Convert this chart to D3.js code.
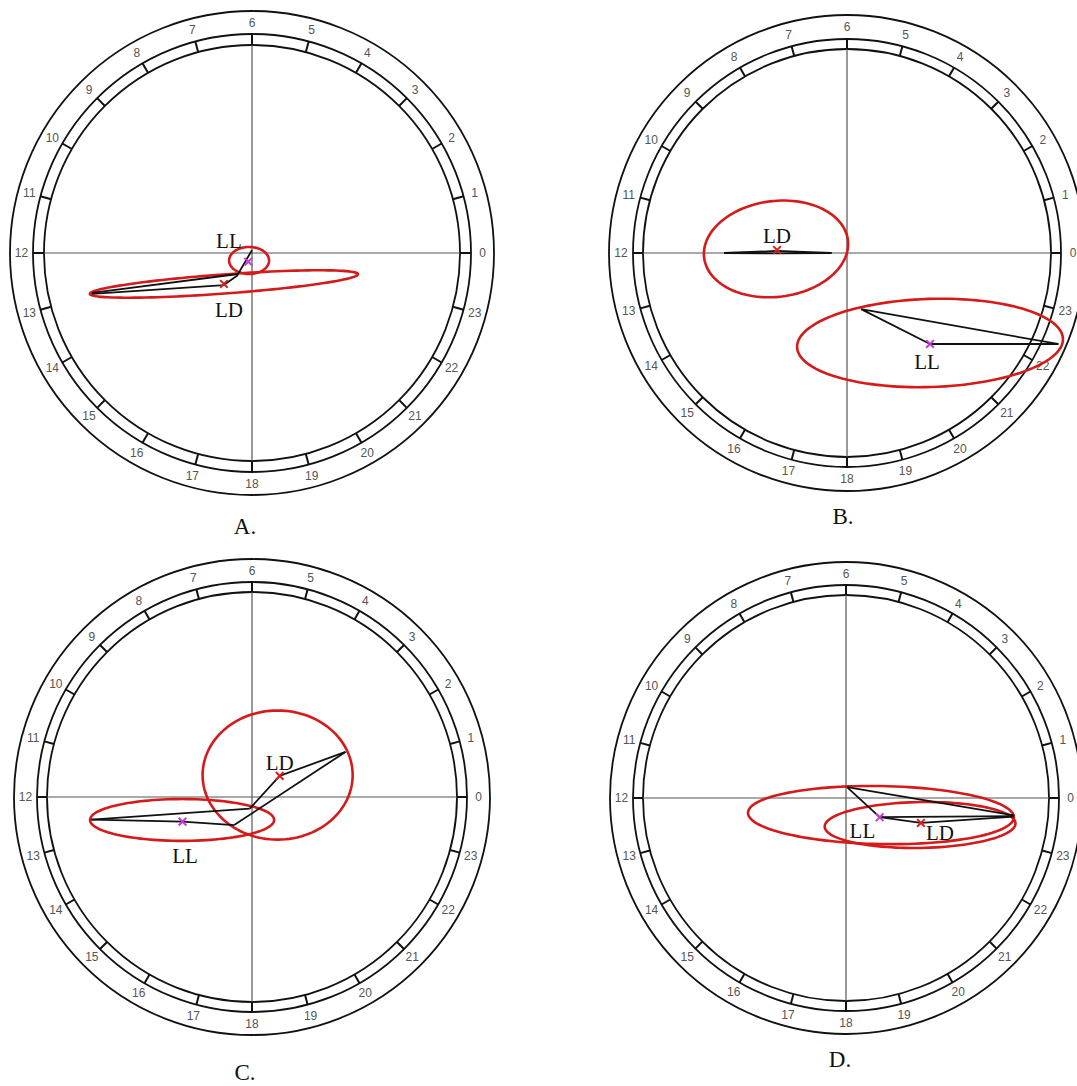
<!DOCTYPE html>
<html>
<head>
<meta charset="utf-8">
<script src="https://cdn.jsdelivr.net/npm/d3@7"></script>
<style>
  html, body { margin: 0; padding: 0; background: #fff; }
  svg { display: block; }
</style>
</head>
<body>
<svg id="chart" width="1077" height="1086"></svg>
<script>
// Hours of the clock dial (0 at 3 o'clock, counter-clockwise)
const hours = d3.range(24);
const panelTitles = ["A.", "B.", "C.", "D."];
const groups = ["LL", "LD"];

// Cosinor estimates, in % of the dial scale: x = A·cos(φ), y = A·sin(φ)
const markersA = [{ g: "LL", x: -1.8, y: -4.2 }, { g: "LD", x: -13.5, y: -14.9 }];
const markersB = [{ g: "LL", x: 40.7, y: -44.6 }, { g: "LD", x: -34.3, y: 1.5 }];
const markersC = [{ g: "LL", x: -33.9, y: -12.0 }, { g: "LD", x: 13.5, y: 10.3 }];
const markersD = [{ g: "LL", x: 16.6, y: -9.5 }, { g: "LD", x: 36.9, y: -12.3 }];

// Confidence ellipses: centre, semi-axes, tilt (degrees)
const ellipsesA = [
  { g: "LL", x: -1.4, y: -3.6, a: 9.6, b: 6.5, tilt: 0 },
  { g: "LD", x: -13.5, y: -14.9, a: 64.6, b: 4.6, tilt: 4.2 }
];
const ellipsesB = [
  { g: "LD", x: -34.8, y: 2.0, a: 35.5, b: 23.5, tilt: 7 },
  { g: "LL", x: 40.7, y: -44.1, a: 65.2, b: 21.6, tilt: 1.8 }
];
const ellipsesC = [
  { g: "LD", x: 12.5, y: 10.7, a: 36.6, b: 31.5, tilt: 0 },
  { g: "LL", x: -34.1, y: -11.2, a: 44.9, b: 10.2, tilt: 0 }
];
const ellipsesD = [
  { g: "LL", x: 17.2, y: -8.4, a: 65.5, b: 14.3, tilt: -1 },
  { g: "LD", x: 36.5, y: -13.3, a: 47.0, b: 11.3, tilt: 1 }
];

// Vector / tangent segments
const segmentsA = [
  [[0, 1.4], [-6.7, -10.1], [-76.9, -19.2]],
  [[-76.9, -19.7], [-13.5, -15.4], [-6.7, -10.6]]
];
const segmentsB = [
  [[-60.3, 0], [-34.3, 1.0], [-7.8, 0], [-34.3, -0.2], [-60.3, 0]],
  [[6.9, -27.5], [103.4, -44.6], [40.7, -44.6], [6.9, -27.5]]
];
const segmentsC = [
  [[45.6, 22.0], [13.5, 10.3], [-1.1, -5.7]],
  [[45.6, 22.0], [-8.7, -13.7]],
  [[-78.4, -11.0], [-33.9, -12.0], [-8.7, -13.7]],
  [[-78.4, -11.0], [-1.1, -5.7]]
];
const segmentsD = [
  [[0.5, 5.4], [82.8, -8.6]],
  [[0.5, 5.4], [16.6, -9.4], [82.8, -8.9]],
  [[16.6, -9.4], [36.9, -12.3], [82.8, -9.2]]
];

// Group annotations
const notesA = [{ g: "LL", x: -11.1, y: 5.8 }, { g: "LD", x: -11.1, y: -27.4 }];
const notesB = [{ g: "LD", x: -34.3, y: 8.3 }, { g: "LL", x: 39.2, y: -53.2 }];
const notesC = [{ g: "LD", x: 13.5, y: 16.6 }, { g: "LL", x: -32.7, y: -28.7 }];
const notesD = [{ g: "LL", x: 8.1, y: -16.3 }, { g: "LD", x: 46.3, y: -17.4 }];

const panelData = [
  { markers: markersA, ellipses: ellipsesA, segments: segmentsA, notes: notesA },
  { markers: markersB, ellipses: ellipsesB, segments: segmentsB, notes: notesB },
  { markers: markersC, ellipses: ellipsesC, segments: segmentsC, notes: notesC },
  { markers: markersD, ellipses: ellipsesD, segments: segmentsD, notes: notesD }
];

// Dial geometry for each panel (pixels)
const dials = [
  { cx: 252, cy: 253, rIn: 208, rMid: 219, rOut: 242, tx: 245, ty: 534 },
  { cx: 847, cy: 253, rIn: 204, rMid: 214, rOut: 238, tx: 843, ty: 524 },
  { cx: 252, cy: 797, rIn: 205, rMid: 215, rOut: 238, tx: 245, ty: 1080 },
  { cx: 846, cy: 798, rIn: 203, rMid: 213, rOut: 236, tx: 840, ty: 1067 }
];

const markerColor = { LL: "#c43ccf", LD: "#d42020" };
const svg = d3.select("#chart");

dials.forEach((dial, i) => {
  const d = panelData[i];
  const x = d3.scaleLinear().domain([-100, 100]).range([dial.cx - dial.rIn, dial.cx + dial.rIn]);
  const y = d3.scaleLinear().domain([-100, 100]).range([dial.cy + dial.rIn, dial.cy - dial.rIn]);
  const angle = d3.scaleLinear().domain([0, 24]).range([0, 2 * Math.PI]);
  const g = svg.append("g");

  // rings
  g.selectAll(".ring").data([dial.rIn, dial.rMid, dial.rOut]).join("circle")
    .attr("cx", dial.cx).attr("cy", dial.cy).attr("r", r => r)
    .attr("fill", "none").attr("stroke", "#111").attr("stroke-width", 1.8);

  // crosshair
  g.append("line").attr("x1", x(-100)).attr("x2", x(100)).attr("y1", y(0)).attr("y2", y(0))
    .attr("stroke", "#555").attr("stroke-width", 1.2);
  g.append("line").attr("x1", x(0)).attr("x2", x(0)).attr("y1", y(-100)).attr("y2", y(100))
    .attr("stroke", "#555").attr("stroke-width", 1.2);

  // hour ticks
  g.selectAll(".tick").data(hours).join("line")
    .attr("x1", h => dial.cx + dial.rIn * Math.cos(angle(h)))
    .attr("y1", h => dial.cy - dial.rIn * Math.sin(angle(h)))
    .attr("x2", h => dial.cx + dial.rMid * Math.cos(angle(h)))
    .attr("y2", h => dial.cy - dial.rMid * Math.sin(angle(h)))
    .attr("stroke", "#111").attr("stroke-width", 2);

  // hour labels
  const rLab = (dial.rMid + dial.rOut) / 2;
  g.selectAll(".hour").data(hours).join("text")
    .attr("x", h => dial.cx + rLab * Math.cos(angle(h)))
    .attr("y", h => dial.cy - rLab * Math.sin(angle(h)))
    .attr("text-anchor", "middle").attr("dominant-baseline", "central")
    .attr("font-family", "Liberation Sans, Arial, sans-serif").attr("font-size", 12)
    .attr("fill", "#555").text(h => h);

  // confidence ellipses
  const ellipsePts = e => d3.range(0, 2 * Math.PI, Math.PI / 60).map(t => {
    const th = e.tilt * Math.PI / 180;
    const ex = e.a * Math.cos(t), ey = e.b * Math.sin(t);
    return [x(e.x + ex * Math.cos(th) - ey * Math.sin(th)), y(e.y + ex * Math.sin(th) + ey * Math.cos(th))];
  });
  g.selectAll(".ell").data(d.ellipses).join("path")
    .attr("d", e => d3.line().curve(d3.curveLinearClosed)(ellipsePts(e)))
    .attr("fill", "none").attr("stroke", "#d41a1a").attr("stroke-width", 2.6);

  // vector segments
  g.selectAll(".seg").data(d.segments).join("path")
    .attr("d", s => d3.line().x(p => x(p[0])).y(p => y(p[1]))(s))
    .attr("fill", "none").attr("stroke", "#111").attr("stroke-width", 1.8)
    .attr("stroke-linejoin", "round");

  // markers
  g.selectAll(".mk").data(d.markers).join("path")
    .attr("transform", m => `translate(${x(m.x)},${y(m.y)})`)
    .attr("d", d3.symbol(d3.symbolX, 40))
    .attr("fill", "none").attr("stroke", m => markerColor[m.g]).attr("stroke-width", 2);

  // group annotations
  g.selectAll(".note").data(d.notes).join("text")
    .attr("x", n => x(n.x)).attr("y", n => y(n.y))
    .attr("text-anchor", "middle").attr("dominant-baseline", "central")
    .attr("font-family", "Liberation Serif, Times New Roman, serif").attr("font-size", 21)
    .attr("fill", "#111").text(n => n.g);

  // panel title
  g.append("text").attr("x", dial.tx).attr("y", dial.ty)
    .attr("text-anchor", "middle")
    .attr("font-family", "Liberation Serif, Times New Roman, serif").attr("font-size", 23)
    .attr("fill", "#111").text(panelTitles[i]);
});
</script>
</body>
</html>
